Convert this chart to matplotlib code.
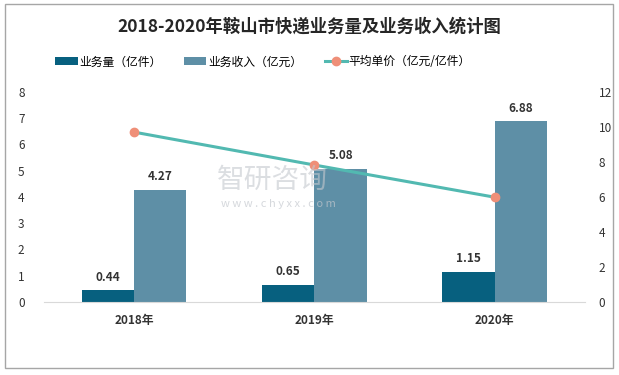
import numpy as np
import matplotlib.pyplot as plt
from matplotlib.patches import Rectangle

plt.rcParams['font.family'] = ['Noto Sans CJK SC', 'DejaVu Sans']

years = ['2018年', '2019年', '2020年']
volume = [0.44, 0.65, 1.15]        # 业务量（亿件）
revenue = [4.27, 5.08, 6.88]       # 业务收入（亿元）
unit_price = [9.70, 7.82, 5.98]    # 平均单价（亿元/亿件）

c_vol = '#07607f'
c_rev = '#5e8fa6'
c_line = '#52b9b1'
c_mark = '#ef8f78'

fig = plt.figure(figsize=(6.19, 3.75), dpi=100)
fig.patches.append(Rectangle((0.008, 0.018), 0.982, 0.972, transform=fig.transFigure,
                             fill=False, edgecolor='#a6a6a6', linewidth=1))

ax = fig.add_axes([0.071, 0.195, 0.874, 0.56])
ax2 = ax.twinx()

x = np.arange(len(years))
w = 0.29
b1 = ax.bar(x - w / 2, volume, w, color=c_vol, label='业务量（亿件）', zorder=2)
b2 = ax.bar(x + w / 2, revenue, w, color=c_rev, label='业务收入（亿元）', zorder=2)
for rect, v in zip(list(b1) + list(b2), volume + revenue):
    ax.text(rect.get_x() + rect.get_width() / 2, v + 0.25, f'{v:.2f}', ha='center', va='bottom',
            fontsize=8.5, fontweight='bold', color='#333333')

ln, = ax2.plot(x, unit_price, color=c_line, linewidth=2.2, marker='o', markersize=6,
               markerfacecolor=c_mark, markeredgecolor=c_mark, label='平均单价（亿元/亿件）', zorder=3)

ax.set_xlim(-0.5, 2.5)
ax.set_ylim(0, 8)
ax2.set_ylim(0, 12)
ax.set_yticks(range(0, 9))
ax2.set_yticks(range(0, 13, 2))
ax.set_xticks(x)
ax.set_xticklabels(years, fontsize=9, fontweight='bold', color='#333333')
for a in (ax, ax2):
    for s in a.spines.values():
        s.set_visible(False)
    a.tick_params(length=0, labelsize=8.5, colors='#333333')
ax.tick_params(axis='y', pad=14)
ax2.tick_params(axis='y', pad=10)
ax.tick_params(axis='x', pad=9)
ax.spines['bottom'].set_visible(True)
ax.spines['bottom'].set_color('#d9d9d9')

# watermark
fig.text(0.44, 0.52, '智研咨询', fontsize=20, color='#c4c8ce', alpha=0.6, ha='center', va='center', zorder=0)
fig.text(0.45, 0.455, 'w w w . c h y x x . c o m', fontsize=8, color='#c4c8ce', alpha=0.7,
         ha='center', va='center', zorder=0)

fig.text(0.5, 0.93, '2018-2020年鞍山市快递业务量及业务收入统计图', ha='center', va='center',
         fontsize=12.5, fontweight='bold', color='#262626')
fig.legend(handles=[b1, b2, ln], loc='center', bbox_to_anchor=(0.425, 0.835), ncol=3, frameon=False,
           fontsize=8.5, handlelength=1.9, columnspacing=1.9, handletextpad=0.15)

fig.savefig('out.png', dpi=100)
